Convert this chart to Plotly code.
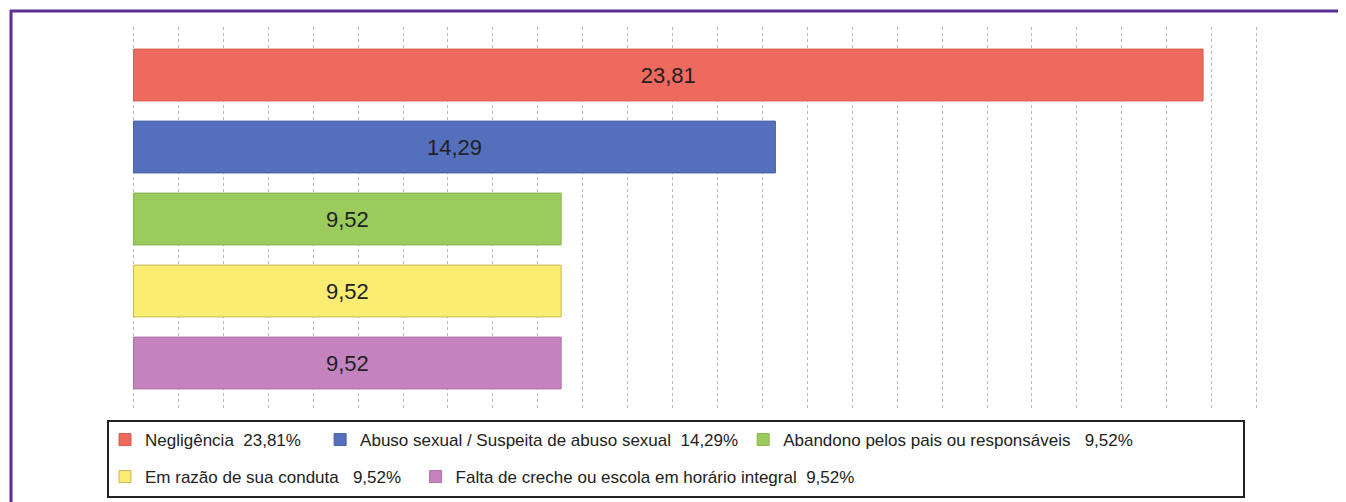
import plotly.graph_objects as go

# motivos de acolhimento (%)
categorias = [
    "Negligência",
    "Abuso sexual / Suspeita de abuso sexual",
    "Abandono pelos pais ou responsáveis",
    "Em razão de sua conduta",
    "Falta de creche ou escola em horário integral",
]
valores = [23.81, 14.29, 9.52, 9.52, 9.52]
cores = ["#ee6a5f", "#5470bd", "#9ccb5d", "#fbec72", "#c483bf"]
bordas = ["#d95a50", "#4a62a8", "#8ab44f", "#c9b85a", "#ae72a9"]
espacos = [2, 2, 3, 3, 2]
sobra = [3, 0, 0, 2, 0]
linha_legenda = ["legend", "legend", "legend", "legend2", "legend2"]

# a página tem margem de 8px no body
OFF = 8
W, H = 1346 - OFF, 502 - OFF
esc = 44.92            # px por ponto percentual
xmin, xmax = -0.1, 25.3
L = round(125 + xmin * esc)
pw = round((xmax - xmin) * esc)
R = W - L - pw
T, B = 19, 94
ph = H - T - B


def px_x(x):
    return (x - OFF - L) / pw


def px_y(y):
    return (H - B - (y - OFF)) / ph


fig = go.Figure()
for cat, v, c, b, n, s, lg in zip(categorias, valores, cores, bordas, espacos, sobra, linha_legenda):
    nome = cat + "\u00a0" * n + f"{v:.2f}".replace(".", ",") + "%" + "\u00a0" * s
    fig.add_trace(go.Bar(
        x=[v], y=[cat], orientation="h", name=nome, legend=lg,
        width=0.72,
        marker=dict(color=c, line=dict(color=b, width=1)),
        texttemplate="%{x:.2f}", textposition="inside", insidetextanchor="middle",
        textfont=dict(size=22, color="#222"), textangle=0,
    ))

leg_common = dict(
    orientation="h", xanchor="left", yanchor="middle",
    font=dict(family="Liberation Sans, Arial, sans-serif", size=17, color="#222"),
    bgcolor="rgba(0,0,0,0)", borderwidth=0, itemclick=False,
)

fig.update_layout(
    width=W, height=H,
    margin=dict(l=L, r=R, t=T, b=B, autoexpand=False),
    paper_bgcolor="white", plot_bgcolor="white",
    separators=",.",
    barmode="overlay",
    font=dict(family="Liberation Sans, Arial, sans-serif"),
    legend=dict(x=px_x(105), y=px_y(440), **leg_common),
    legend2=dict(x=px_x(105), y=px_y(477), **leg_common),
    xaxis=dict(
        range=[xmin, xmax], dtick=1, tick0=0, showticklabels=False, ticks="",
        showgrid=True, gridcolor="#b8b8b8", gridwidth=1, griddash="3px,3px",
        zeroline=False, showline=False,
    ),
    yaxis=dict(
        categoryorder="array", categoryarray=categorias,
        range=[4.625, -0.667], showticklabels=False, ticks="",
        showgrid=False, zeroline=False, showline=False,
    ),
    shapes=[
        # moldura roxa
        dict(type="line", xref="paper", yref="paper", x0=px_x(11), x1=px_x(11),
             y0=px_y(10), y1=px_y(520), line=dict(color="#5d2e8f", width=3)),
        dict(type="line", xref="paper", yref="paper", x0=px_x(10), x1=px_x(1360),
             y0=px_y(11), y1=px_y(11), line=dict(color="#5d2e8f", width=3)),
        # caixa da legenda
        dict(type="rect", xref="paper", yref="paper", x0=px_x(108), x1=px_x(1244),
             y0=px_y(421), y1=px_y(497), line=dict(color="#222", width=2)),
    ],
)

fig.write_html("out.html")
